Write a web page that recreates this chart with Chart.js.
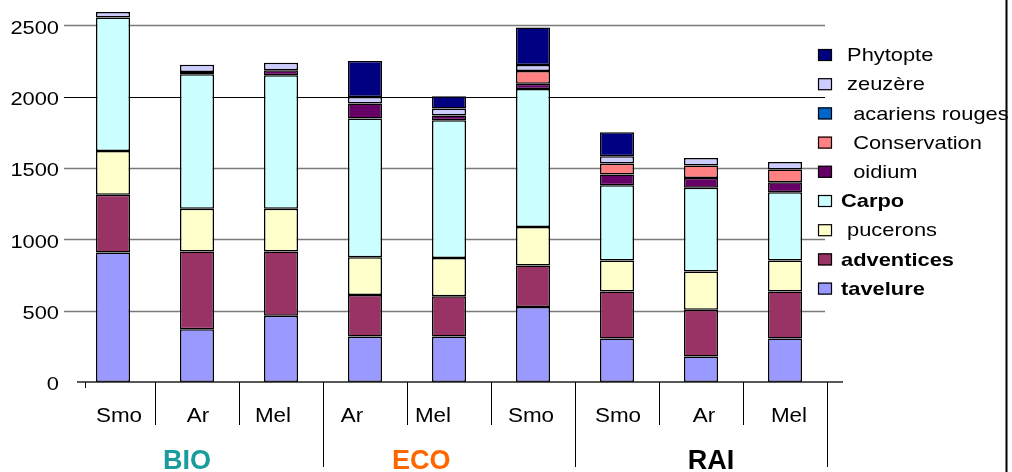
<!DOCTYPE html>
<html>
<head>
<meta charset="utf-8">
<script src="https://cdn.jsdelivr.net/npm/chart.js@4"></script>
<style>
  html, body { margin: 0; padding: 0; background: #ffffff; }
  #wrap { width: 1012px; height: 472px; position: relative; }
</style>
</head>
<body>
<div id="wrap"><canvas id="c" width="1012" height="472"></canvas></div>
<script>
// Categories (variety per farming system) and their groups
const categories = ['Smo', 'Ar', 'Mel', 'Ar', 'Mel', 'Smo', 'Smo', 'Ar', 'Mel'];
const groups = ['BIO', 'ECO', 'RAI'];
const groupColors = ['#1a9c9c', '#ff6600', '#000000'];
const yTicks = [0, 500, 1000, 1500, 2000, 2500];

// Stacked series, bottom to top
const tavelure        = [907, 369, 465, 318, 318, 526, 304, 178, 304];
const adventices      = [406, 545, 449, 292, 283, 290, 330, 329, 330];
const pucerons        = [306, 301, 301, 264, 268, 270, 217, 267, 217];
const carpo           = [935, 942, 935, 972, 965, 968, 528, 588, 479];
const oidium          = [0, 16, 35, 105, 33, 37, 75, 68, 70];
const conservation    = [0, 0, 0, 0, 0, 89, 77, 87, 89];
const acariensRouges  = [0, 0, 0, 0, 0, 0, 0, 0, 0];
const zeuzere         = [39, 51, 53, 47, 49, 42, 51, 53, 53];
const phytopte        = [0, 0, 0, 252, 86, 262, 168, 0, 0];

const series = [
  { label: 'tavelure',         data: tavelure,       color: '#9999ff', bold: true },
  { label: 'adventices',       data: adventices,     color: '#993366', bold: true },
  { label: ' pucerons',        data: pucerons,       color: '#ffffcc', bold: false },
  { label: 'Carpo',            data: carpo,          color: '#ccffff', bold: true },
  { label: '  oidium',         data: oidium,         color: '#660066', bold: false },
  { label: '  Conservation',   data: conservation,   color: '#ff8080', bold: false },
  { label: '  acariens rouges', data: acariensRouges, color: '#0066cc', bold: false },
  { label: ' zeuzère',         data: zeuzere,        color: '#ccccff', bold: false },
  { label: ' Phytopte',        data: phytopte,       color: '#000080', bold: false }
];

const FONT = '"Liberation Sans", Arial, sans-serif';
const SX = 1.15; // horizontal stretch of the Arial text

function drawText(ctx, text, x, y, font, color, align, sx, baseline) {
  ctx.save();
  ctx.font = font;
  ctx.fillStyle = color;
  ctx.textAlign = align;
  ctx.textBaseline = baseline || 'middle';
  ctx.translate(x, y);
  ctx.scale(sx, 1);
  ctx.fillText(text, 0, 0);
  ctx.restore();
}

function line(ctx, x1, y1, x2, y2, color, w) {
  ctx.save();
  ctx.strokeStyle = color;
  ctx.lineWidth = w;
  ctx.beginPath();
  ctx.moveTo(x1, y1);
  ctx.lineTo(x2, y2);
  ctx.stroke();
  ctx.restore();
}

// Horizontal gridlines behind the bars
const gridPlugin = {
  id: 'gridLines',
  beforeDatasetsDraw(chart) {
    const ctx = chart.ctx, y = chart.scales.y, a = chart.chartArea;
    yTicks.forEach(v => {
      if (v === 0) return;
      const py = Math.round(y.getPixelForValue(v));
      const col = v === 2000 ? '#000000' : '#7a7a7a';
      line(ctx, a.left - 7, py + 0.5, a.right - 2, py + 0.5, col, v === 2000 ? 1.2 : 1.6);
    });
  }
};

// Axis, labels, separators, legend and frame
const decorPlugin = {
  id: 'decor',
  afterDraw(chart) {
    const ctx = chart.ctx, x = chart.scales.x, y = chart.scales.y, a = chart.chartArea;
    const y0 = y.getPixelForValue(0);

    // y tick labels
    yTicks.forEach(v => {
      drawText(ctx, String(v), 59, y.getPixelForValue(v) + 3, '19px ' + FONT, '#000', 'right', SX);
    });

    // x axis line
    line(ctx, a.left + 6, y0, a.right + 16, y0, '#222', 1.6);

    // category separators
    const n = categories.length;
    for (let i = 0; i <= n; i++) {
      const bx = Math.round(x.getPixelForValue(i - 0.5)) + 0.5;
      if (i === 0) {
        line(ctx, bx + 14, y0, bx + 14, y0 + 6, '#000', 1);
      } else if (i % 3 === 0) {
        line(ctx, bx, y0, bx, y0 + 85, '#000', 1);
      } else {
        line(ctx, bx, y0, bx, y0 + 43, '#000', 1);
      }
    }

    // category labels
    const catNudge = [6, 1, -8, -13, -16, -2, 1, 3, 4];
    categories.forEach((c, i) => {
      drawText(ctx, c, x.getPixelForValue(i) + catNudge[i], 417, '19.5px ' + FONT, '#000', 'center', SX);
    });

    // group labels
    const groupPos = [0.88, 3.67, 7.12];
    groups.forEach((g, i) => {
      drawText(ctx, g, x.getPixelForValue(groupPos[i]), 468.5, 'bold 27px ' + FONT, groupColors[i], 'center', 1.0, 'alphabetic');
    });

    // legend, top entry = last series
    const items = series.slice().reverse();
    items.forEach((s, i) => {
      const cy = 55 + i * 29.2;
      ctx.save();
      ctx.fillStyle = s.color;
      ctx.fillRect(818, cy - 6, 14, 12);
      ctx.strokeStyle = '#000';
      ctx.lineWidth = 1.2;
      ctx.strokeRect(818.5, cy - 5.5, 13, 11);
      ctx.restore();
      drawText(ctx, s.label, 841, cy + 1, (s.bold ? 'bold ' : '') + '19px ' + FONT, '#000', 'left', SX);
    });

    // right frame edge
    line(ctx, 1006.5, 0, 1006.5, 472, '#000', 2);
  }
};

new Chart(document.getElementById('c'), {
  type: 'bar',
  data: {
    labels: categories,
    datasets: series.map(s => ({
      label: s.label,
      data: s.data,
      backgroundColor: s.color,
      borderColor: '#000000',
      borderWidth: 1.5,
      borderSkipped: false,
      barPercentage: 0.405,
      categoryPercentage: 1.0
    }))
  },
  options: {
    responsive: false,
    animation: false,
    devicePixelRatio: 1,
    layout: { padding: { left: 71, right: 185, top: 11, bottom: 90 } },
    plugins: { legend: { display: false }, tooltip: { enabled: false } },
    scales: {
      x: { stacked: true, display: false },
      y: { stacked: true, display: false, min: 0, max: 2600 }
    }
  },
  plugins: [gridPlugin, decorPlugin]
});
</script>
</body>
</html>
